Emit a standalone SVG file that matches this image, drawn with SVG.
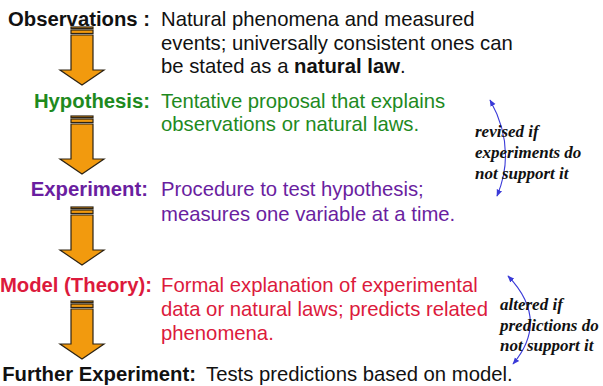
<svg xmlns="http://www.w3.org/2000/svg" width="603" height="386" viewBox="0 0 603 386">
  <style>
    .lbl { font-family: "Liberation Sans", Arial, sans-serif; font-size: 20.3px; font-weight: bold; text-anchor: end; }
    .txt { font-family: "Liberation Sans", Arial, sans-serif; font-size: 20.3px; }
    .note { font-family: "Liberation Serif", "Times New Roman", serif; font-size: 17px; font-weight: bold; font-style: italic; fill: #111; }
    .blk { fill: #111; }
    .grn { fill: #1e8a1e; }
    .pur { fill: #6a1ea0; }
    .red { fill: #dc1a3c; }
    .flow { fill: #f29a0e; stroke: #2e2414; stroke-width: 1.2; stroke-linejoin: miter; }
    .loop { fill: none; stroke: #3a3ad8; stroke-width: 1.1; }
  </style>
  <defs>
    <!-- striped down arrow, top at y=0, tip at y=58 -->
    <g id="downArrow">
      <rect class="flow" x="-11" y="0" width="22" height="1.6"/>
      <rect class="flow" x="-11" y="3" width="22" height="3.5"/>
      <path class="flow" d="M-11,8 H11 V43 H22 L0,58 L-22,43 H-11 Z"/>
    </g>
    <marker id="tip" viewBox="0 0 10 10" refX="9" refY="5" markerWidth="7" markerHeight="7" orient="auto-start-reverse" markerUnits="userSpaceOnUse">
      <path d="M0,1 L10,5 L0,9 Z" fill="#3a3ad8"/>
    </marker>
  </defs>

  <!-- connectors: the flow arrows and the feedback loops -->
  <g id="connectors">
    <use href="#downArrow" x="82" y="27"/>
    <use href="#downArrow" x="82" y="116"/>
    <use href="#downArrow" x="82" y="207"/>
    <use href="#downArrow" x="82" y="301"/>
    <path class="loop" d="M490,100 Q517,148 497,196" marker-start="url(#tip)" marker-end="url(#tip)"/>
    <path class="loop" d="M508,276 Q550,320 513,364" marker-start="url(#tip)" marker-end="url(#tip)"/>
  </g>

  <g id="observations">
    <text class="lbl blk" x="150" y="26">Observations :</text>
    <text class="txt blk" x="161" y="26">Natural phenomena and measured</text>
    <text class="txt blk" x="161" y="50">events; universally consistent ones can</text>
    <text class="txt blk" x="161" y="73">be stated as a <tspan font-weight="bold">natural law</tspan>.</text>
  </g>

  <g id="hypothesis">
    <text class="lbl grn" x="150" y="108">Hypothesis:</text>
    <text class="txt grn" x="161" y="108">Tentative proposal that explains</text>
    <text class="txt grn" x="161" y="131">observations or natural laws.</text>
  </g>

  <g id="experiment">
    <text class="lbl pur" x="148" y="196">Experiment:</text>
    <text class="txt pur" x="161" y="196">Procedure to test hypothesis;</text>
    <text class="txt pur" x="161" y="221">measures one variable at a time.</text>
  </g>

  <g id="model">
    <text class="lbl red" x="152" y="292">Model (Theory):</text>
    <text class="txt red" x="161" y="292">Formal explanation of experimental</text>
    <text class="txt red" x="161" y="316">data or natural laws; predicts related</text>
    <text class="txt red" x="161" y="340">phenomena.</text>
  </g>

  <g id="further-experiment">
    <text class="lbl blk" x="196" y="381">Further Experiment:</text>
    <text class="txt blk" x="206" y="381">Tests predictions based on model.</text>
  </g>

  <g id="revised-note">
    <text class="note" x="475" y="137">revised if</text>
    <text class="note" x="475" y="158">experiments do</text>
    <text class="note" x="475" y="179">not support it</text>
  </g>

  <g id="altered-note">
    <text class="note" x="500" y="310">altered if</text>
    <text class="note" x="500" y="331">predictions do</text>
    <text class="note" x="500" y="351">not support it</text>
  </g>
</svg>
